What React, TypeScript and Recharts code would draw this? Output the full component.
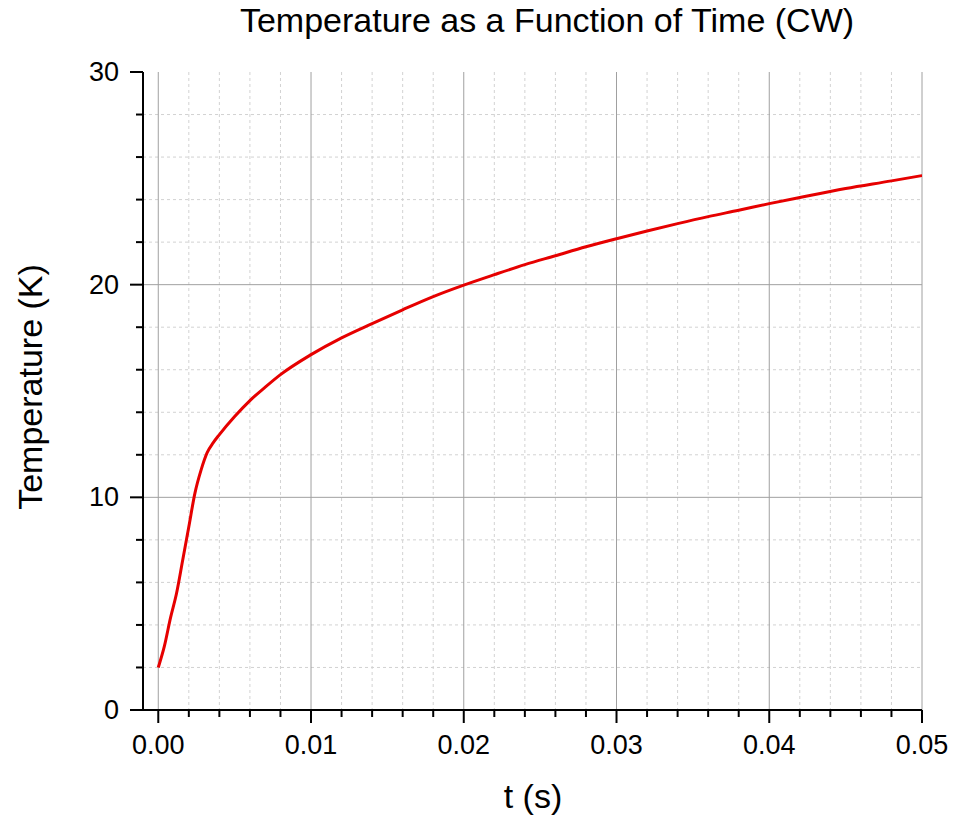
import { LineChart, Line, XAxis, YAxis, CartesianGrid } from "recharts";

const timeS = [
  0, 0.0004, 0.0008, 0.0012, 0.0016, 0.002, 0.0024, 0.0028, 0.0032, 0.0036,
  0.004, 0.005, 0.006, 0.007, 0.008, 0.01, 0.012, 0.014, 0.016, 0.018, 0.02,
  0.022, 0.024, 0.026, 0.028, 0.03, 0.032, 0.034, 0.036, 0.038, 0.04, 0.042,
  0.045, 0.048, 0.05,
];
const temperatureK = [
  2.0, 3.0, 4.33, 5.5, 7.05, 8.62, 10.2, 11.28, 12.1, 12.57,
  12.95, 13.8, 14.55, 15.18, 15.77, 16.71, 17.5, 18.17, 18.82, 19.44, 19.98,
  20.47, 20.94, 21.36, 21.78, 22.16, 22.52, 22.87, 23.2, 23.5, 23.81, 24.1,
  24.52, 24.88, 25.13,
];

const xMajorTicks = [0, 0.01, 0.02, 0.03, 0.04, 0.05];
const xTickLabels = ["0.00", "0.01", "0.02", "0.03", "0.04", "0.05"];
const xMinorTicks = [
  0.002, 0.004, 0.006, 0.008, 0.012, 0.014, 0.016, 0.018, 0.022, 0.024, 0.026,
  0.028, 0.032, 0.034, 0.036, 0.038, 0.042, 0.044, 0.046, 0.048,
];
const yMajorTicks = [0, 10, 20, 30];
const yTickLabels = ["0", "10", "20", "30"];
const yMinorTicks = [2, 4, 6, 8, 12, 14, 16, 18, 22, 24, 26, 28];

const title = "Temperature as a Function of Time (CW)";
const xTitle = "t (s)";
const yTitle = "Temperature (K)";

const data = timeS.map((t, i) => ({ t, temp: temperatureK[i] }));

const FONT = "'Liberation Sans', Arial, sans-serif";

function XTick(props: any) {
  const { x, y, payload } = props;
  const i = xMajorTicks.indexOf(payload.value);
  const major = i >= 0;
  return (
    <g>
      <line x1={x} x2={x} y1={y} y2={y + (major ? 13 : 7)} stroke="#000" strokeWidth={2} />
      {major && (
        <text x={x} y={y + 44} textAnchor="middle" fontSize={27} fontFamily={FONT} fill="#000">
          {xTickLabels[i]}
        </text>
      )}
    </g>
  );
}

function YTick(props: any) {
  const { x, y, payload } = props;
  const i = yMajorTicks.indexOf(payload.value);
  const major = i >= 0;
  return (
    <g>
      <line x1={x - (major ? 13 : 7)} x2={x} y1={y} y2={y} stroke="#000" strokeWidth={2} />
      {major && (
        <text x={x - 24} y={y + 9} textAnchor="end" fontSize={27} fontFamily={FONT} fill="#000">
          {yTickLabels[i]}
        </text>
      )}
    </g>
  );
}

export default function App() {
  return (
    <div style={{ position: "absolute", left: 0, top: 0, width: 956, height: 820, background: "#fff" }}>
      <LineChart
        width={956}
        height={820}
        data={data}
        margin={{ top: 72, right: 34, bottom: 0, left: 0 }}
      >
        <CartesianGrid
          stroke="#d2d2d2"
          strokeDasharray="3 3"
          verticalValues={xMinorTicks}
          horizontalValues={yMinorTicks}
        />
        <CartesianGrid
          stroke="#a0a0a0"
          strokeWidth={1}
          verticalValues={xMajorTicks}
          horizontalValues={[10, 20]}
        />
        <XAxis
          type="number"
          dataKey="t"
          domain={[-0.001, 0.05]}
          ticks={[...xMajorTicks, ...xMinorTicks].sort((a, b) => a - b)}
          interval={0}
          height={110}
          tickSize={0}
          tickMargin={0}
          tickLine={false}
          tick={<XTick />}
          axisLine={{ stroke: "#000", strokeWidth: 2 }}
          allowDataOverflow
        />
        <YAxis
          type="number"
          domain={[0, 30]}
          ticks={[...yMajorTicks, ...yMinorTicks].sort((a, b) => a - b)}
          interval={0}
          width={143}
          tickSize={0}
          tickMargin={0}
          tickLine={false}
          tick={<YTick />}
          axisLine={{ stroke: "#000", strokeWidth: 2 }}
        />
        <Line
          type="monotone"
          dataKey="temp"
          stroke="#e60000"
          strokeWidth={3}
          dot={false}
          activeDot={false}
          isAnimationActive={false}
        />
      </LineChart>
      <svg
        width={956}
        height={820}
        style={{ position: "absolute", left: 0, top: 0, pointerEvents: "none" }}
      >
        <text x={547} y={32} textAnchor="middle" fontSize={34} fontFamily={FONT} fill="#000">
          {title}
        </text>
        <text x={533} y={808} textAnchor="middle" fontSize={34} fontFamily={FONT} fill="#000">
          {xTitle}
        </text>
        <text
          x={0}
          y={0}
          transform="translate(42, 387) rotate(-90)"
          textAnchor="middle"
          fontSize={34}
          fontFamily={FONT}
          fill="#000"
        >
          {yTitle}
        </text>
      </svg>
    </div>
  );
}
